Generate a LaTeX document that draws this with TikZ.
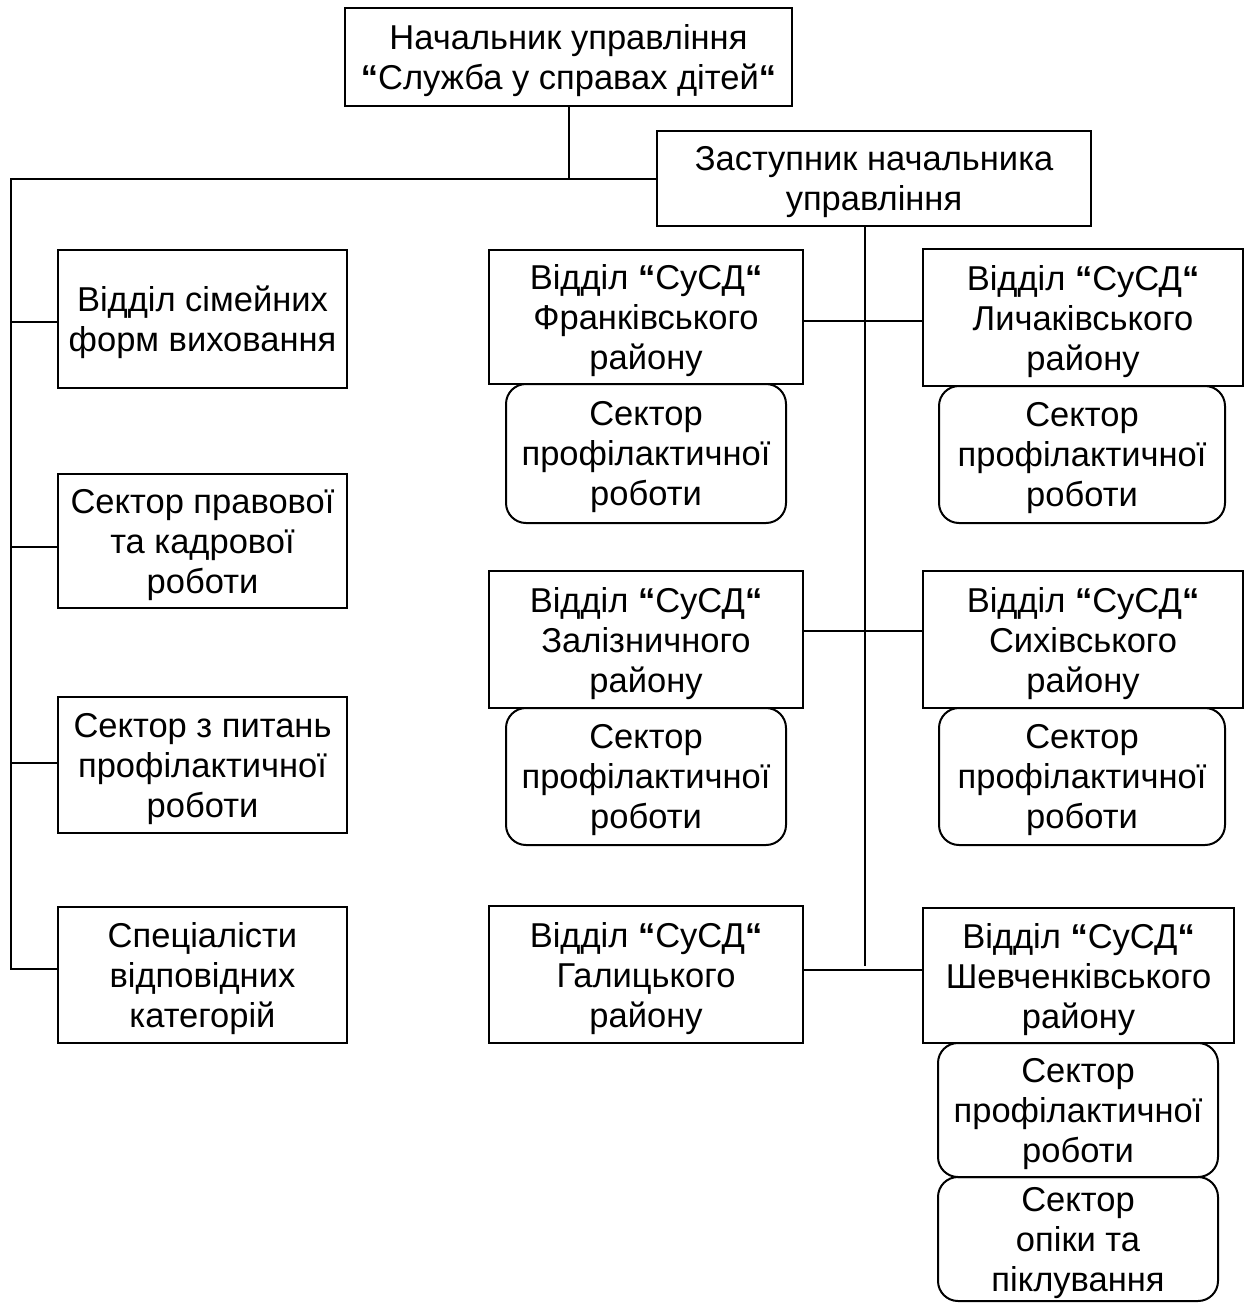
\documentclass[tikz,border=0pt]{standalone}
\usepackage{fontspec}
\setmainfont{Liberation Sans}
\newcommand{\bq}{\textbf{“}}
\begin{document}
\begin{tikzpicture}[x=1pt,y=-1pt,
  box/.style={draw,line width=2pt,rectangle,align=center,inner sep=0pt,
    text depth=-13pt,font=\fontsize{34.5}{40}\selectfont},
  sect/.style={box,rounded corners=20pt}]
\useasboundingbox (0,0) rectangle (1250,1304);
% top level
\node[box,minimum width=447,minimum height=98] (top) at (568.5,57) {Начальник управління\\\bq Служба у справах дітей\bq};
\node[box,minimum width=434,minimum height=95] (dep) at (874,178.5) {Заступник начальника\\управління};
% left column
\node[box,minimum width=289,minimum height=138] (L1) at (202.5,319) {Відділ сімейних\\форм виховання};
\node[box,minimum width=289,minimum height=134] (L2) at (202.5,541) {Сектор правової\\та кадрової\\роботи};
\node[box,minimum width=289,minimum height=136] (L3) at (202.5,765) {Сектор з питань\\профілактичної\\роботи};
\node[box,minimum width=289,minimum height=136] (L4) at (202.5,975) {Спеціалісти\\відповідних\\категорій};
% middle column
\node[box,minimum width=314,minimum height=134] (M1) at (646,317) {Відділ \bq СуСД\bq\\Франківського\\району};
\node[sect,minimum width=280,minimum height=139] (MS1) at (646,453.5) {Сектор\\профілактичної\\роботи};
\node[box,minimum width=314,minimum height=137] (M2) at (646,639.5) {Відділ \bq СуСД\bq\\Залізничного\\району};
\node[sect,minimum width=280,minimum height=137] (MS2) at (646,776.5) {Сектор\\профілактичної\\роботи};
\node[box,minimum width=314,minimum height=137] (M3) at (646,974.5) {Відділ \bq СуСД\bq\\Галицького\\району};
% right column
\node[box,minimum width=320,minimum height=137] (R1) at (1083,317.5) {Відділ \bq СуСД\bq\\Личаківського\\району};
\node[sect,minimum width=286,minimum height=137] (RS1) at (1082,454.5) {Сектор\\профілактичної\\роботи};
\node[box,minimum width=320,minimum height=137] (R2) at (1083,639.5) {Відділ \bq СуСД\bq\\Сихівського\\району};
\node[sect,minimum width=286,minimum height=137] (RS2) at (1082,776.5) {Сектор\\профілактичної\\роботи};
\node[box,minimum width=311,minimum height=135] (R3) at (1078.5,975.5) {Відділ \bq СуСД\bq\\Шевченківського\\району};
\node[sect,minimum width=280,minimum height=134] (RS3) at (1078,1110) {Сектор\\профілактичної\\роботи};
\node[sect,minimum width=280,minimum height=124] (RS4) at (1078,1239) {Сектор\\опіки та\\піклування};
% bus coordinates
\coordinate (lt) at (11,178.5);
\coordinate (lb) at (11,969);
\coordinate (db) at (865,966);
\begin{scope}[line width=2pt]
\draw (top.south) -- (top.south |- dep.west);
\draw (dep.west) -- (lt) -- (lb) -- ([yshift=6]L4.west);
\draw ([yshift=-3]L1.west -| lt) -- ([yshift=-3]L1.west);
\draw ([yshift=-6]L2.west -| lt) -- ([yshift=-6]L2.west);
\draw ([yshift=2]L3.west -| lt) -- ([yshift=2]L3.west);
\draw (db |- dep.south) -- (db);
\draw ([yshift=-4]M1.east) -- ([yshift=-4]M1.east -| R1.west);
\draw ([yshift=8.5]M2.east) -- ([yshift=8.5]M2.east -| R2.west);
\draw ([yshift=4.5]M3.east) -- ([yshift=4.5]M3.east -| R3.west);
\end{scope}
\end{tikzpicture}
\end{document}
